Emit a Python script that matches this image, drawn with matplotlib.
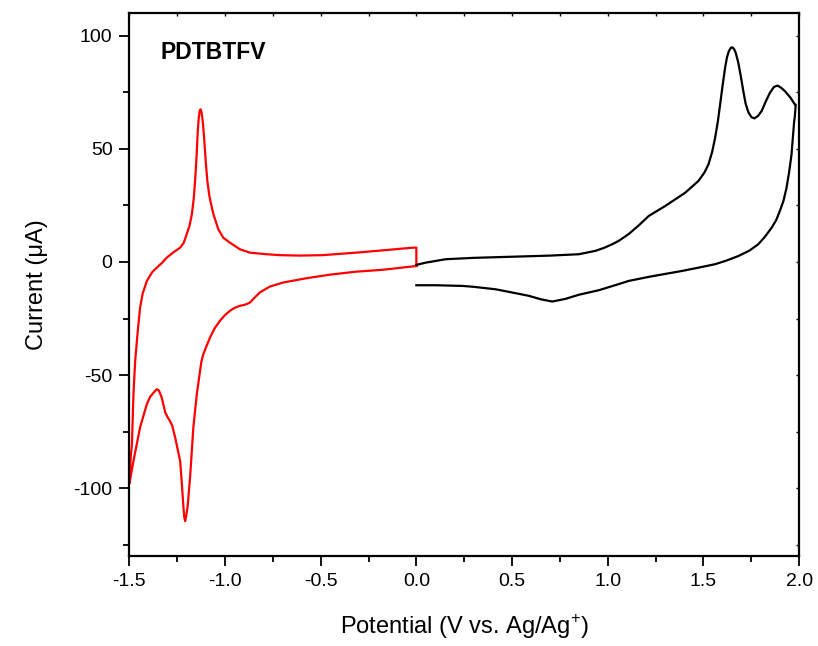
import numpy as np
import matplotlib
matplotlib.use('Agg')
import matplotlib.pyplot as plt
from matplotlib.ticker import MultipleLocator

plt.rcParams['font.family'] = ['Liberation Sans', 'DejaVu Sans']
plt.rcParams['mathtext.fontset'] = 'custom'
plt.rcParams['mathtext.rm'] = 'Liberation Sans'
plt.rcParams['axes.unicode_minus'] = False

# red scan: lower branch 0 -> -1.5, upper branch back to 0, then closing step
red_v = [0.0, -0.18, -0.314, -0.45, -0.574, -0.696, -0.766, -0.818, -0.85, -0.87,
         -0.895, -0.922, -0.95, -0.974, -1.0, -1.026, -1.055, -1.078, -1.098, -1.113,
         -1.123, -1.13, -1.147, -1.165, -1.182, -1.195, -1.203, -1.208, -1.213, -1.218,
         -1.226, -1.234, -1.26, -1.275, -1.286, -1.3, -1.312, -1.33, -1.345, -1.356,
         -1.37, -1.39, -1.408, -1.443, -1.478, -1.495, -1.5,
         -1.492, -1.486, -1.478, -1.469, -1.455, -1.443, -1.43, -1.408, -1.38, -1.356,
         -1.33, -1.304, -1.27, -1.234, -1.215, -1.2, -1.185, -1.173, -1.163, -1.156,
         -1.148, -1.142, -1.137, -1.132, -1.127, -1.122, -1.116, -1.109, -1.1, -1.092,
         -1.082, -1.075, -1.06, -1.035, -1.009, -0.974, -0.922, -0.87, -0.783, -0.714,
         -0.609, -0.488, -0.3, -0.15, -0.019, 0.0, 0.0]
red_i = [-1.8, -3.5, -4.3, -5.6, -7.2, -9.1, -10.9, -13.5, -16.2, -18.0,
         -18.9, -19.4, -20.3, -21.6, -23.5, -26.0, -29.5, -33.4, -37.5, -40.8,
         -44.0, -48.1, -58.4, -73.0, -95.0, -108.0, -112.5, -114.5, -112.5, -107.0,
         -97.0, -88.0, -77.6, -72.5, -70.5, -68.5, -66.5, -60.0, -56.8, -56.2,
         -57.5, -59.5, -62.8, -73.0, -87.9, -96.0, -98.0,
         -86.0, -80.5, -58.4, -43.7, -30.0, -20.0, -14.0, -8.4, -4.5, -2.5,
         -0.5, 1.9, 4.2, 6.3, 8.5, 12.2, 16.0, 21.0, 28.0, 35.8,
         47.0, 57.8, 63.5, 66.8, 67.4, 66.0, 62.0, 55.0, 44.0, 35.8,
         29.5, 26.5, 21.0, 14.5, 10.7, 8.5, 5.6, 4.1, 3.4, 3.0,
         2.8, 3.0, 4.2, 5.3, 6.3, 6.3, -1.8]

# black scan: 0 -> 2.0 and back to 0
blk_v = [0.0, 0.05, 0.154, 0.3, 0.502, 0.7, 0.849, 0.936, 0.98, 1.023,
         1.057, 1.109, 1.16, 1.214, 1.3, 1.405, 1.474, 1.505, 1.526, 1.545,
         1.561, 1.575, 1.587, 1.6, 1.613, 1.623, 1.632, 1.642, 1.651, 1.66,
         1.668, 1.682, 1.695, 1.708, 1.72, 1.734, 1.75, 1.766, 1.785, 1.804,
         1.826, 1.847, 1.868, 1.887, 1.905, 1.925, 1.955, 1.977, 1.982,
         1.977, 1.974, 1.967, 1.96, 1.948, 1.934, 1.918, 1.899, 1.88, 1.856,
         1.82, 1.786, 1.74, 1.682, 1.62, 1.561, 1.47, 1.387, 1.3, 1.214,
         1.109, 1.057, 0.953, 0.849, 0.78, 0.71, 0.65, 0.589, 0.5, 0.415,
         0.3, 0.241, 0.1, 0.0]
blk_i = [-1.3, -0.3, 1.2, 1.8, 2.3, 2.8, 3.4, 4.9, 6.2, 7.8,
         9.3, 12.3, 16.0, 20.3, 24.7, 30.6, 35.8, 39.5, 43.1, 48.5,
         54.9, 62.0, 69.6, 78.0, 85.8, 90.5, 93.0, 94.5, 94.8, 94.0,
         92.5, 88.0, 82.0, 75.5, 70.0, 66.2, 64.0, 63.4, 64.5, 66.7,
         71.0, 74.7, 77.3, 77.9, 77.0, 75.5, 72.5, 69.6, 69.5,
         64.0, 62.3, 55.0, 47.5, 40.0, 32.8, 27.0, 22.5, 18.5, 15.1,
         11.0, 7.8, 5.0, 2.6, 0.6, -1.0, -2.6, -4.0, -5.3, -6.6,
         -8.4, -9.8, -12.5, -14.5, -16.3, -17.5, -16.5, -15.0, -13.5, -12.1,
         -11.0, -10.6, -10.3, -10.3]

fig = plt.figure(figsize=(8.18, 6.46), dpi=100)
ax = fig.add_axes([0.158, 0.139, 0.819, 0.841])

ax.plot(red_v, red_i, color='#ff0000', lw=1.6, solid_joinstyle='round')
ax.plot(blk_v, blk_i, color='black', lw=1.6, solid_joinstyle='round')

ax.set_xlim(-1.5, 2.0)
ax.set_ylim(-130, 110)
ax.xaxis.set_major_locator(MultipleLocator(0.5))
ax.xaxis.set_minor_locator(MultipleLocator(0.25))
ax.yaxis.set_major_locator(MultipleLocator(50))
ax.yaxis.set_minor_locator(MultipleLocator(25))
ax.xaxis.set_major_formatter(matplotlib.ticker.FormatStrFormatter('%.1f'))

ax.tick_params(which='major', direction='out', length=7, width=1.3, labelsize=14,
               top=False, right=False, pad=5)
ax.tick_params(which='minor', direction='out', length=4, width=1.3,
               top=False, right=False)
for s in ax.spines.values():
    s.set_linewidth(1.6)

# tiny inward ticks on top and right
sec = ax.secondary_xaxis('top')
sec.xaxis.set_major_locator(MultipleLocator(0.25))
sec.tick_params(direction='in', length=2, width=1, labeltop=False)
sec.spines['top'].set_visible(False)
sec2 = ax.secondary_yaxis('right')
sec2.yaxis.set_major_locator(MultipleLocator(25))
sec2.tick_params(direction='in', length=2, width=1, labelright=False)
sec2.spines['right'].set_visible(False)

ax.set_xlabel('Potential (V vs. Ag/Ag$^{+}$)', fontsize=17, labelpad=16)
ax.set_ylabel('Current (\u03bcA)', fontsize=17, labelpad=18)
ax.text(0.046, 0.928, 'PDTBTFV', transform=ax.transAxes, fontsize=16.5,
        fontweight='bold', ha='left', va='center')

fig.savefig('out.png', dpi=100)
